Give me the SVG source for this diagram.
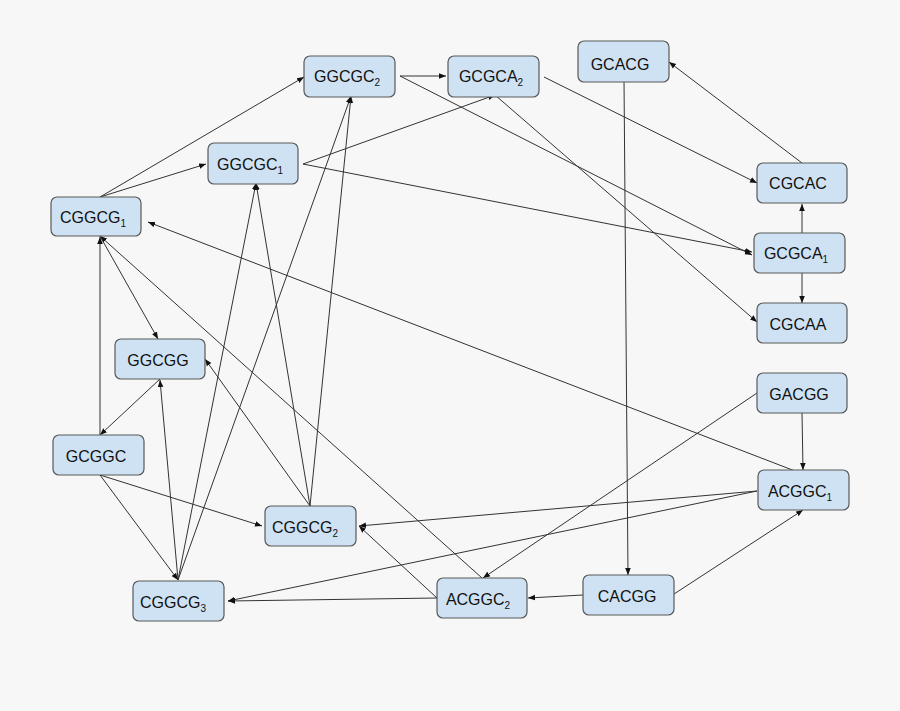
<svg xmlns="http://www.w3.org/2000/svg" width="900" height="711" viewBox="0 0 900 711">
<style>
.n rect{fill:#cfe2f3;stroke:#595959;stroke-width:1.2}
.n text{font-family:"Liberation Sans",Arial,sans-serif;font-size:16px;fill:#111;text-anchor:middle}
.n tspan{font-size:10px}
.e line{stroke:#333;stroke-width:1;marker-end:url(#a)}
</style>
<defs><marker id="a" viewBox="0 0 10 10" refX="10" refY="5" markerWidth="7" markerHeight="7" orient="auto" markerUnits="userSpaceOnUse"><path d="M0,1 L10,5 L0,9 z" fill="#111"/></marker></defs>
<rect width="900" height="711" fill="#f7f7f7"/>
<g class="e">
<line x1="100" y1="197" x2="304" y2="77"/>
<line x1="100" y1="197" x2="206" y2="164"/>
<line x1="400" y1="76" x2="446" y2="76"/>
<line x1="400" y1="76" x2="752" y2="255"/>
<line x1="303" y1="164" x2="495" y2="95"/>
<line x1="303" y1="164" x2="752" y2="252"/>
<line x1="544" y1="77" x2="757" y2="183"/>
<line x1="495" y1="95" x2="757" y2="322"/>
<line x1="802" y1="163" x2="669" y2="62"/>
<line x1="802" y1="233" x2="802" y2="204"/>
<line x1="802" y1="273" x2="802" y2="303"/>
<line x1="624" y1="79" x2="628" y2="575"/>
<line x1="795" y1="471" x2="148" y2="222"/>
<line x1="802" y1="413" x2="803" y2="470"/>
<line x1="757" y1="393" x2="483" y2="578"/>
<line x1="757" y1="491" x2="359" y2="526"/>
<line x1="757" y1="491" x2="228" y2="601"/>
<line x1="674" y1="594" x2="803" y2="510"/>
<line x1="583" y1="595" x2="528" y2="598"/>
<line x1="437" y1="598" x2="228" y2="601"/>
<line x1="437" y1="598" x2="359" y2="526"/>
<line x1="482" y1="578" x2="100" y2="236"/>
<line x1="100" y1="236" x2="158" y2="339"/>
<line x1="100" y1="435" x2="100" y2="237"/>
<line x1="160" y1="379" x2="100" y2="435"/>
<line x1="178" y1="580" x2="160" y2="380"/>
<line x1="100" y1="475" x2="178" y2="580"/>
<line x1="100" y1="475" x2="262" y2="526"/>
<line x1="178" y1="580" x2="256" y2="183"/>
<line x1="178" y1="580" x2="351" y2="96"/>
<line x1="310" y1="506" x2="256" y2="183"/>
<line x1="310" y1="506" x2="351" y2="96"/>
<line x1="310" y1="506" x2="205" y2="359"/>
</g>
<g class="n" id="GGCGC2"><rect x="304" y="56" width="91" height="41" rx="6"/><text x="347" y="82">GGCGC<tspan dy="4">2</tspan></text></g>
<g class="n" id="GCGCA2"><rect x="448" y="56" width="91" height="41" rx="6"/><text x="491" y="82">GCGCA<tspan dy="4">2</tspan></text></g>
<g class="n" id="GCACG"><rect x="578" y="41" width="91" height="41" rx="6"/><text x="620" y="70">GCACG</text></g>
<g class="n" id="GGCGC1"><rect x="208" y="143" width="90" height="41" rx="6"/><text x="250" y="170">GGCGC<tspan dy="4">1</tspan></text></g>
<g class="n" id="CGGCG1"><rect x="51" y="197" width="90" height="39" rx="6"/><text x="93" y="223">CGGCG<tspan dy="4">1</tspan></text></g>
<g class="n" id="CGCAC"><rect x="757" y="163" width="90" height="40" rx="6"/><text x="798" y="189">CGCAC</text></g>
<g class="n" id="GCGCA1"><rect x="754" y="233" width="91" height="40" rx="6"/><text x="796" y="259">GCGCA<tspan dy="4">1</tspan></text></g>
<g class="n" id="CGCAA"><rect x="757" y="303" width="90" height="40" rx="6"/><text x="798" y="330">CGCAA</text></g>
<g class="n" id="GGCGG"><rect x="115" y="339" width="90" height="40" rx="6"/><text x="158" y="366">GGCGG</text></g>
<g class="n" id="GCGGC"><rect x="53" y="435" width="91" height="40" rx="6"/><text x="96" y="462">GCGGC</text></g>
<g class="n" id="GACGG"><rect x="757" y="373" width="90" height="40" rx="6"/><text x="799" y="400">GACGG</text></g>
<g class="n" id="ACGGC1"><rect x="758" y="470" width="91" height="40" rx="6"/><text x="800" y="497">ACGGC<tspan dy="4">1</tspan></text></g>
<g class="n" id="CGGCG2"><rect x="265" y="506" width="91" height="40" rx="6"/><text x="305" y="533">CGGCG<tspan dy="4">2</tspan></text></g>
<g class="n" id="CGGCG3"><rect x="133" y="581" width="91" height="40" rx="6"/><text x="173" y="608">CGGCG<tspan dy="4">3</tspan></text></g>
<g class="n" id="ACGGC2"><rect x="437" y="578" width="90" height="40" rx="6"/><text x="478" y="605">ACGGC<tspan dy="4">2</tspan></text></g>
<g class="n" id="CACGG"><rect x="583" y="575" width="91" height="40" rx="6"/><text x="627" y="602">CACGG</text></g>
</svg>
